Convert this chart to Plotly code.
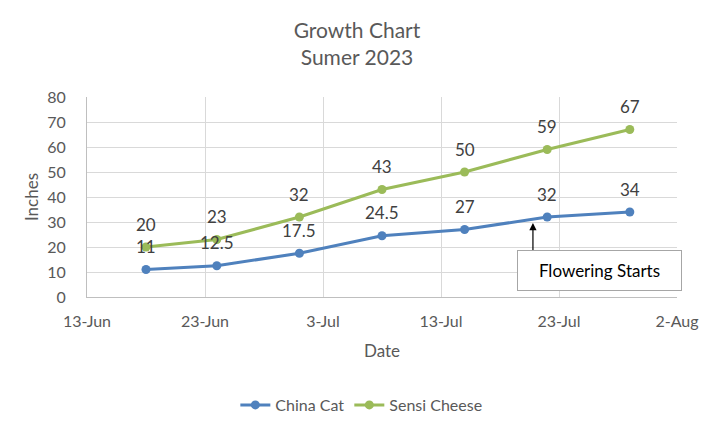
import plotly.graph_objects as go

# values
dates = ['2023-06-18', '2023-06-24', '2023-07-01', '2023-07-08', '2023-07-15', '2023-07-22', '2023-07-29']
china_cat = [11, 12.5, 17.5, 24.5, 27, 32, 34]
sensi_cheese = [20, 23, 32, 43, 50, 59, 67]
labels_cc = ['11', '12.5', '17.5', '24.5', '27', '32', '34']
labels_sc = ['20', '23', '32', '43', '50', '59', '67']

note_text = 'Flowering Starts'
note_head = ('2023-07-20 19:00', 29.6)
note_box = ('2023-07-26 11:00', 10.5)

FONT = 'Lato'
GRAY = '#595959'
BLUE = '#4F81BD'
GREEN = '#9BBB59'

fig = go.Figure()
fig.add_trace(go.Scatter(x=dates, y=china_cat, mode='lines+markers', name='China Cat',
                         line=dict(color=BLUE, width=3), marker=dict(size=9, color=BLUE)))
fig.add_trace(go.Scatter(x=dates, y=sensi_cheese, mode='lines+markers', name='Sensi Cheese',
                         line=dict(color=GREEN, width=3), marker=dict(size=9, color=GREEN)))

anns = []
for ys, ls in ((china_cat, labels_cc), (sensi_cheese, labels_sc)):
    for x, y, t in zip(dates, ys, ls):
        anns.append(dict(x=x, y=y, text=t, showarrow=False, yshift=23,
                         font=dict(family=FONT, size=17, color='#404040')))

# arrow and text box of the note
anns.append(dict(x=note_head[0], y=note_head[1], text='', showarrow=True, ax=0, ay=31,
                 arrowhead=2, arrowsize=1.2, arrowwidth=1.2, arrowcolor='black'))
anns.append(dict(x=note_box[0], y=note_box[1], text=note_text, showarrow=False,
                 width=155, height=31, borderpad=4, bordercolor='#A6A6A6', borderwidth=1,
                 bgcolor='white', font=dict(family=FONT, size=17, color='black')))

# page body adds an 8px offset, so the margins are shifted by that much
fig.update_layout(
    width=720, height=434, paper_bgcolor='white', plot_bgcolor='white',
    margin=dict(l=79, r=51, t=89, b=145, autoexpand=False),
    font=dict(family=FONT, color=GRAY, size=16),
    title=dict(text='Growth Chart<br>Sumer 2023', x=349/720, xanchor='center', y=0.932, yanchor='top',
               font=dict(family=FONT, size=21, color=GRAY)),
    annotations=anns,
    showlegend=True,
    legend=dict(orientation='h', x=0.465, xanchor='center', y=-0.54, yanchor='middle',
                font=dict(family=FONT, size=16, color=GRAY)),
)
fig.update_xaxes(type='date', range=['2023-06-13', '2023-08-02'], tick0='2023-06-13', dtick=864000000,
                 tickformat='%-d-%b', showgrid=True, gridcolor='#D9D9D9', showline=True,
                 linecolor='#BFBFBF', ticks='', ticklabelstandoff=10, automargin=False,
                 title=dict(text='Date', font=dict(size=17), standoff=15),
                 tickfont=dict(size=16, color=GRAY), zeroline=False)
fig.update_yaxes(range=[0, 80], dtick=10, showgrid=True, gridcolor='#D9D9D9', showline=True,
                 linecolor='#BFBFBF', ticks='', ticklabelstandoff=17, automargin=False,
                 title=dict(text='Inches', font=dict(size=17), standoff=4),
                 tickfont=dict(size=16, color=GRAY), zeroline=False)

fig.write_html('out.html')
